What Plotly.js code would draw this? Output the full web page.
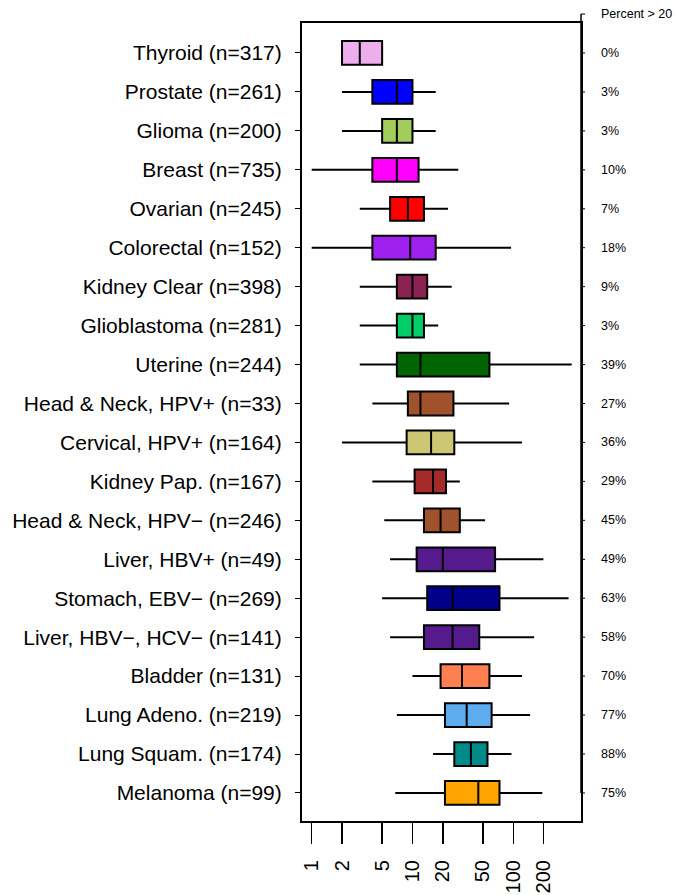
<!DOCTYPE html>
<html>
<head>
<meta charset="utf-8">
<script src="https://cdn.plot.ly/plotly-3.0.1.min.js"></script>
<style>html,body{margin:0;padding:0;background:#fff;}</style>
</head>
<body>
<div id="chart" style="width:677px;height:895px;"></div>
<script>
// ---- data (top row first) ----
const cancerTypes = ["Thyroid","Prostate","Glioma","Breast","Ovarian","Colorectal","Kidney Clear","Glioblastoma","Uterine","Head & Neck, HPV+","Cervical, HPV+","Kidney Pap.","Head & Neck, HPV\u2212","Liver, HBV+","Stomach, EBV\u2212","Liver, HBV\u2212, HCV\u2212","Bladder","Lung Adeno.","Lung Squam.","Melanoma"];
const sampleSizes = [317,261,200,735,245,152,398,281,244,33,164,167,246,49,269,141,131,219,174,99];
const lowerWhisker = [2,2,2,1,3,1,3,3,3,4,2,4,5.25,6,5,6,10,7,16,6.75];
const q1Values     = [2,4,5,4,6,4,7,7,7,9,8.75,10.5,13,11,14,13,19,21,26,21];
const medianValues = [3,7,7,7,9,9.5,10,10,12,12,15.3,16,19,20,25,25,31,34.5,38,45];
const q3Values     = [5,10,10,11.5,13,17,14,13,58,25.5,26,21.5,29.5,66,73,46,58,61,55.5,73];
const upperWhisker = [5,17,17,28.5,22.5,95,24.5,18,380,91,122,29.5,52.5,199,354,161,122,147,96,194];
const percentOver20 = ["0%","3%","3%","10%","7%","18%","9%","3%","39%","27%","36%","29%","45%","49%","63%","58%","70%","77%","88%","75%"];
const rightHeader = "Percent > 20";
const boxColors = ["#EEAEEE","#0000FF","#A2CD5A","#FF00FF","#FF0000","#A020F0","#8B2252","#00CD66","#006400","#A0522D","#CDC673","#A52A2A","#A0522D","#551A8B","#00008B","#551A8B","#FF7F50","#5CACEE","#008B8B","#FFA500"];
const xTickVals = [1,2,5,10,20,50,100,200];
const xTickText = ["1","2","5","10","20","50","100","200"];

// ---- build ----
const positions = cancerTypes.map((_, i) => i + 1);
const labels = cancerTypes.map((c, i) => c + " (n=" + sampleSizes[i] + ")");

const traces = cancerTypes.map((c, i) => ({
  type: "box",
  orientation: "h",
  y: [positions[i]],
  lowerfence: [lowerWhisker[i]],
  q1: [q1Values[i]],
  median: [medianValues[i]],
  q3: [q3Values[i]],
  upperfence: [upperWhisker[i]],
  width: 0.61,
  whiskerwidth: 0,
  boxpoints: false,
  fillcolor: boxColors[i],
  line: {color: "#000000", width: 2},
  showlegend: false,
  hoverinfo: "skip"
}));

const yRange = [20.72, 0.23];
function yPaper(v) { return (yRange[0] - v) / (yRange[0] - yRange[1]); }
const plotWidthPx = 677 - 302 - 96;

const shapes = [];
const annotations = [];
const rightPositions = [0].concat(positions);
const rightLabels = [rightHeader].concat(percentOver20);
shapes.push({type: "line", xref: "paper", yref: "paper", x0: 1, x1: 1,
  y0: yPaper(0), y1: yPaper(positions[positions.length - 1]),
  line: {color: "#000", width: 1.5}});
rightPositions.forEach((p, i) => {
  shapes.push({type: "line", xref: "paper", yref: "paper", x0: 1, x1: 1 + 4 / plotWidthPx,
    y0: yPaper(p), y1: yPaper(p), line: {color: "#000", width: 1}});
  annotations.push({xref: "paper", yref: "paper", x: 1, y: yPaper(p), xanchor: "left", yanchor: "middle",
    xshift: 18, text: rightLabels[i], showarrow: false,
    font: {family: "Liberation Sans, Arial, sans-serif", size: 12.5, color: "#000"}});
});

const layout = {
  width: 677, height: 895,
  margin: {l: 302, r: 96, t: 23, b: 74, pad: 0},
  paper_bgcolor: "#fff", plot_bgcolor: "#fff",
  font: {family: "Liberation Sans, Arial, sans-serif", color: "#000"},
  xaxis: {
    type: "log", range: [-0.096, 2.672],
    tickvals: xTickVals, ticktext: xTickText,
    ticks: "outside", ticklen: 21, tickwidth: 1.5, tickcolor: "#000",
    tickangle: -90, tickfont: {size: 20, color: "#000"},
    ticklabelstandoff: 8,
    showgrid: false, zeroline: false,
    showline: true, mirror: true, linecolor: "#000", linewidth: 2
  },
  yaxis: {
    range: yRange, tickvals: positions, ticktext: labels,
    ticks: "outside", ticklen: 5, tickwidth: 1, tickcolor: "#000",
    tickfont: {size: 21, color: "#000"},
    ticklabelstandoff: 9,
    showgrid: false, zeroline: false,
    showline: true, mirror: true, linecolor: "#000", linewidth: 2
  },
  shapes: shapes,
  annotations: annotations,
  showlegend: false
};

Plotly.newPlot("chart", traces, layout, {displayModeBar: false, staticPlot: true});
</script>
</body>
</html>
